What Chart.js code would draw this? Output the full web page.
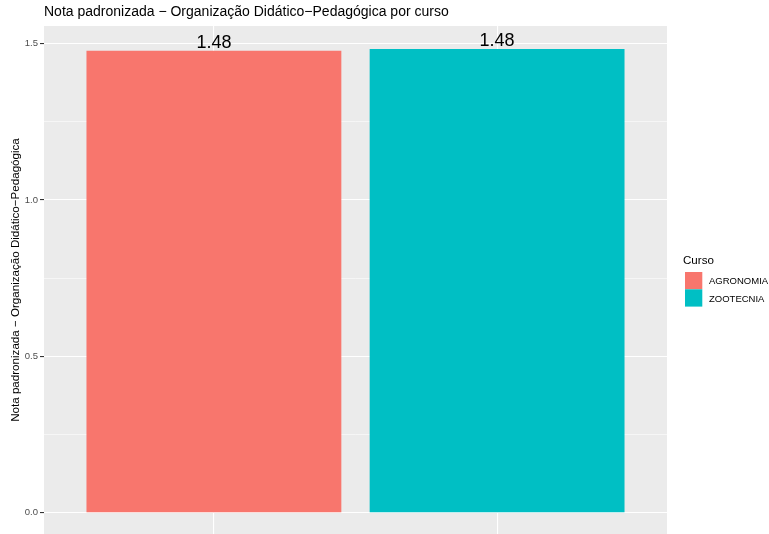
<!DOCTYPE html>
<html>
<head>
<meta charset="utf-8">
<script src="https://cdn.jsdelivr.net/npm/chart.js@4/dist/chart.umd.min.js"></script>
<style>
  html, body { margin: 0; padding: 0; background: #fff; }
  #wrap { width: 769px; height: 534px; }
</style>
</head>
<body>
<div id="wrap"><canvas id="chart" width="769" height="534"></canvas></div>
<script>
// data
const categories = ['AGRONOMIA', 'ZOOTECNIA'];
const notas = [1.477, 1.483];
const colors = ['#F8766D', '#00BFC4'];
const yMajorTicks = [0, 0.5, 1.0, 1.5];
const yTickLabels = ['0.0', '0.5', '1.0', '1.5'];
const yMinorTicks = [0.25, 0.75, 1.25];

const chartTitle = 'Nota padronizada \u2212 Organização Didático\u2212Pedagógica por curso';
const yTitle = 'Nota padronizada \u2212 Organização Didático\u2212Pedagógica';
const legendTitle = 'Curso';

const FONT = '"Liberation Sans", Arial, sans-serif';

// grey panel like ggplot
const panelBg = {
  id: 'panelBg',
  beforeDraw(chart) {
    const { ctx, chartArea: a } = chart;
    ctx.save();
    ctx.fillStyle = '#fff';
    ctx.fillRect(0, 0, chart.width, chart.height);
    ctx.fillStyle = '#EBEBEB';
    ctx.fillRect(a.left, a.top, a.right - a.left, chart.height - a.top);
    ctx.restore();
  }
};

// title + value labels + legend
const extras = {
  id: 'extras',
  afterDatasetsDraw(chart) {
    const { ctx } = chart;
    const meta = chart.getDatasetMeta(0);
    ctx.save();
    ctx.fillStyle = '#000';
    ctx.font = '18px ' + FONT;
    ctx.textAlign = 'center';
    ctx.textBaseline = 'alphabetic';
    meta.data.forEach((bar, i) => {
      ctx.fillText(notas[i].toFixed(2), bar.x, bar.y - 2.5);
    });
    ctx.restore();
  },
  afterDraw(chart) {
    const { ctx, chartArea: a } = chart;
    ctx.save();
    ctx.fillStyle = '#000';
    ctx.textAlign = 'left';
    ctx.textBaseline = 'alphabetic';
    ctx.font = '14px ' + FONT;
    ctx.fillText(chartTitle, a.left, 16);

    // legend
    const lx = a.right + 18;
    ctx.font = '11.6px ' + FONT;
    ctx.fillText(legendTitle, lx - 2, 263.5);
    ctx.font = '9.5px ' + FONT;
    categories.forEach((c, i) => {
      const top = 272 + i * 17.3;
      ctx.fillStyle = colors[i];
      ctx.fillRect(lx, top, 17.3, 17.3);
      ctx.fillStyle = '#000';
      ctx.fillText(c, lx + 24, top + 12.2);
    });
    ctx.restore();
  }
};

new Chart(document.getElementById('chart'), {
  type: 'bar',
  data: {
    datasets: [{
      label: legendTitle,
      data: notas.map((v, i) => ({ x: i + 1, y: v })),
      backgroundColor: colors,
      borderWidth: 0,
      barPercentage: 0.9,
      categoryPercentage: 1
    }]
  },
  options: {
    responsive: false,
    animation: false,
    layout: { padding: { left: 0, right: 102, top: 26, bottom: 0 } },
    plugins: {
      legend: { display: false },
      title: { display: false },
      tooltip: { enabled: false }
    },
    scales: {
      x: {
        type: 'linear',
        min: 0.4,
        max: 2.6,
        offset: false,
        afterBuildTicks(scale) {
          scale.ticks = categories.map((c, i) => ({ value: i + 1 }));
        },
        afterFit(scale) { scale.height = 0; },
        ticks: { display: false },
        border: { display: false },
        grid: { color: '#fff', lineWidth: 1.1, drawTicks: false, offset: false }
      },
      y: {
        type: 'linear',
        min: -0.068,
        max: 1.5565,
        afterBuildTicks(scale) {
          scale.ticks = yMajorTicks.concat(yMinorTicks)
            .sort((p, q) => p - q)
            .map(v => ({ value: v }));
        },
        afterFit(scale) {
          scale.width = 44;
          scale.paddingTop = 0;
          scale.paddingBottom = 0;
        },
        border: { display: false },
        grid: {
          color: '#fff',
          lineWidth: c => yMajorTicks.includes(c.tick.value) ? 1.1 : 0.55,
          tickColor: c => yMajorTicks.includes(c.tick.value) ? '#333333' : 'rgba(0,0,0,0)',
          tickLength: 4,
          tickWidth: 1.1
        },
        ticks: {
          padding: 2,
          color: '#4D4D4D',
          font: { family: FONT, size: 9.5 },
          callback: v => {
            const k = yMajorTicks.indexOf(v);
            return k >= 0 ? yTickLabels[k] : '';
          }
        },
        title: {
          display: true,
          text: yTitle,
          color: '#000',
          font: { family: FONT, size: 11.6 },
          padding: { top: 9, bottom: 0 }
        }
      }
    }
  },
  plugins: [panelBg, extras]
});
</script>
</body>
</html>
